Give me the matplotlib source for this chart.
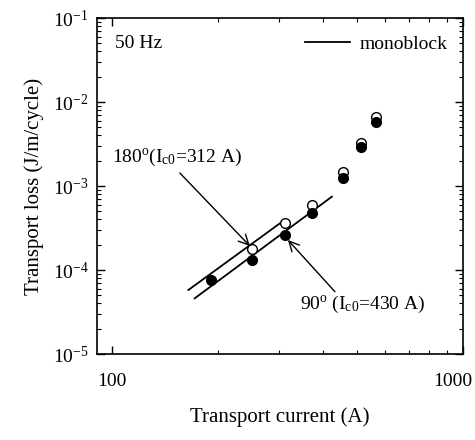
import matplotlib
matplotlib.use("Agg")
import matplotlib.pyplot as plt
import matplotlib.transforms as mtransforms
from matplotlib.ticker import LogLocator, FixedLocator, FixedFormatter, NullFormatter

plt.rcParams['font.family'] = ['Liberation Serif', 'DejaVu Serif']
plt.rcParams['mathtext.fontset'] = 'custom'
plt.rcParams['mathtext.rm'] = 'Liberation Serif'
plt.rcParams['mathtext.it'] = 'Liberation Serif:italic'
plt.rcParams['mathtext.bf'] = 'Liberation Serif:bold'

# Data
current_90 = [191, 251, 312, 371, 455, 512, 565]
loss_90 = [7.6e-5, 1.31e-4, 2.61e-4, 4.73e-4, 1.245e-3, 2.91e-3, 5.83e-3]
current_180 = [251, 312, 371, 455, 512, 565]
loss_180 = [1.76e-4, 3.66e-4, 5.94e-4, 1.47e-3, 3.25e-3, 6.63e-3]
mono_180_x = [165, 301]
mono_180_y = [5.78e-5, 3.6e-4]
mono_90_x = [172, 423]
mono_90_y = [4.6e-5, 7.46e-4]

xticks = [100, 1000]
xticklabels = ['100', '1000']
yticks = [1e-5, 1e-4, 1e-3, 1e-2, 1e-1]
yticklabels = [r'$\mathrm{10^{-5}}$', r'$\mathrm{10^{-4}}$', r'$\mathrm{10^{-3}}$',
               r'$\mathrm{10^{-2}}$', r'$\mathrm{10^{-1}}$']

fig = plt.figure(figsize=(4.75, 4.4), dpi=100)
ax = fig.add_axes([97/475, 1 - 354/440, (463-97)/475, (354-18)/440])
ax.set_xscale('log')
ax.set_yscale('log')
ax.set_xlim(90.6, 1000)
ax.set_ylim(1e-5, 1e-1)

ax.plot(mono_180_x, mono_180_y, color='black', lw=1.3, label='monoblock')
ax.plot(mono_90_x, mono_90_y, color='black', lw=1.3)
ax.plot(current_180, loss_180, 'o', mfc='white', mec='black', ms=7, mew=1.0, zorder=3)
ax.plot(current_90, loss_90, 'o', mfc='black', mec='black', ms=7, mew=1.0, zorder=4)

ax.xaxis.set_major_locator(FixedLocator(xticks))
ax.xaxis.set_major_formatter(FixedFormatter(xticklabels))
ax.xaxis.set_minor_locator(LogLocator(base=10, subs=range(2, 10), numticks=20))
ax.xaxis.set_minor_formatter(NullFormatter())
ax.yaxis.set_major_locator(FixedLocator(yticks))
ax.yaxis.set_major_formatter(FixedFormatter(yticklabels))
ax.yaxis.set_minor_locator(LogLocator(base=10, subs=range(2, 10), numticks=20))
ax.yaxis.set_minor_formatter(NullFormatter())

ax.tick_params(which='both', direction='in', top=True, right=True, labelsize=14)
ax.tick_params(which='major', length=6, width=1.0)
ax.tick_params(which='minor', length=3, width=0.8)
ax.tick_params(axis='x', pad=14)
ax.tick_params(axis='y', pad=6)
for s in ax.spines.values():
    s.set_linewidth(1.2)

ax.set_xlabel('Transport current (A)', fontsize=15, labelpad=12)
ax.set_ylabel('Transport loss (J/m/cycle)', fontsize=15, labelpad=6)

ax.text(0.05, 0.925, '50 Hz', transform=ax.transAxes, fontsize=14, va='center', ha='left')
ax.legend(loc='upper right', bbox_to_anchor=(0.9945, 0.988), frameon=False, fontsize=14,
          handlelength=2.3, borderaxespad=0.3, handletextpad=0.5)

ax.text(100, 2.21e-3, r'180$^{\mathrm{o}}$(I$_{\mathrm{c0}}$=312 A)', fontsize=14,
        va='center', ha='left')
ax.annotate('', xy=(247, 1.93e-4), xytext=(156, 1.43e-3),
            arrowprops=dict(arrowstyle='->', lw=1.0, color='black',
                            mutation_scale=18, shrinkA=0, shrinkB=0))
ax.text(343, 3.94e-5, r'90$^{\mathrm{o}}$ (I$_{\mathrm{c0}}$=430 A)', fontsize=14,
        va='center', ha='left')
ax.annotate('', xy=(317, 2.28e-4), xytext=(431.5, 5.52e-5),
            arrowprops=dict(arrowstyle='->', lw=1.0, color='black',
                            mutation_scale=18, shrinkA=0, shrinkB=0))

# keep the right-most x tick label inside the figure
fig.canvas.draw()
last = ax.xaxis.get_major_ticks()[-1].label1
last.set_transform(last.get_transform() +
                   mtransforms.ScaledTranslation(-10/100, 0, fig.dpi_scale_trans))

fig.savefig('out.png', dpi=100)
